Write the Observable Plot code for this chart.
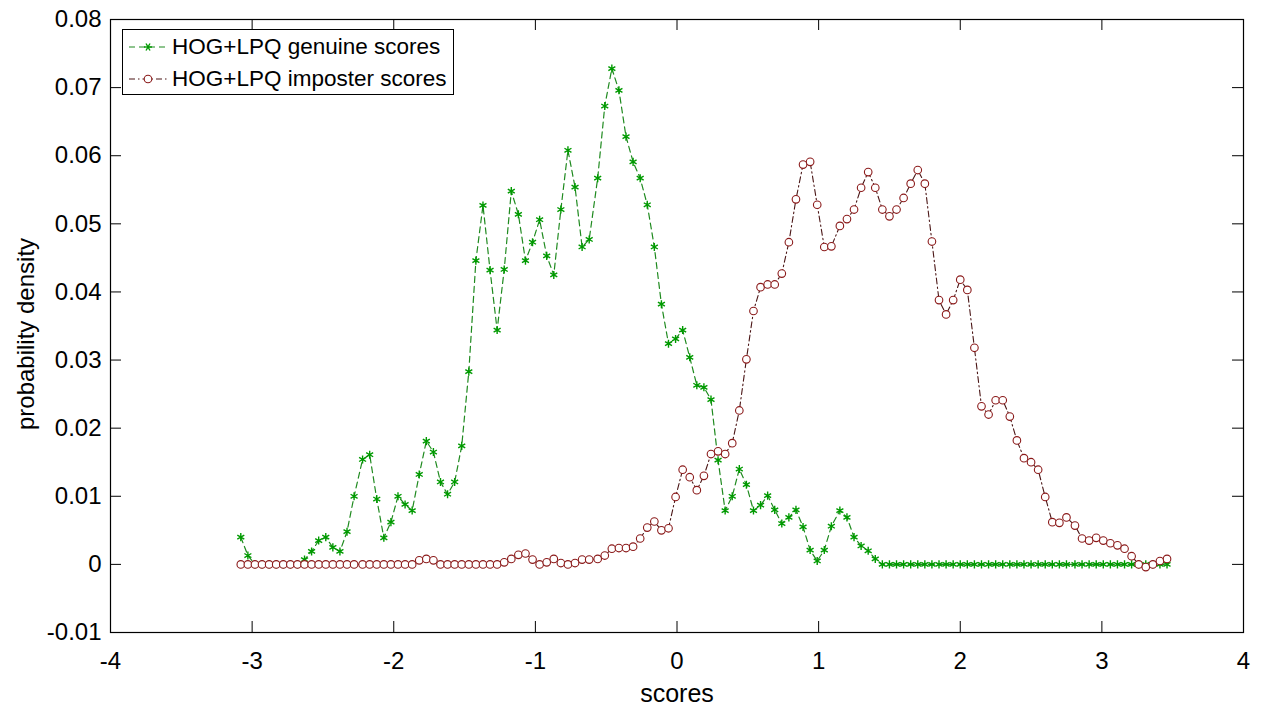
<!DOCTYPE html>
<html>
<head>
<meta charset="utf-8">
<script src="https://cdn.jsdelivr.net/npm/d3@7"></script>
<script src="https://cdn.jsdelivr.net/npm/@observablehq/plot@0.6"></script>
<style>
  html, body { margin: 0; padding: 0; background: #fff; }
  #wrap { position: relative; width: 1262px; height: 711px; font-family: "Liberation Sans", Arial, sans-serif; }
  #legend { position: absolute; left: 122px; top: 29px; width: 332px; height: 66px; box-sizing: border-box;
            border: 1px solid #000; background: #fff; }
  .row { position: absolute; left: 0; height: 30px; width: 100%; }
  .row svg { position: absolute; left: 4px; top: 0; }
  .row span { position: absolute; left: 49px; top: 0; line-height: 30px; font-size: 22.5px; color: #000; white-space: nowrap; }
</style>
</head>
<body>
<div id="wrap"><div id="legend">
  <div class="row" style="top:2px">
    <svg width="42" height="30"><line x1="2" y1="15" x2="40" y2="15" stroke="#1f8a1f" stroke-width="1.2" stroke-dasharray="6,4"/>
      <g transform="translate(21,15)" stroke="#009a00" stroke-width="1.4"><line x1="-4" y1="0" x2="4" y2="0"/><line x1="-2" y1="-3.5" x2="2" y2="3.5"/><line x1="-2" y1="3.5" x2="2" y2="-3.5"/></g></svg>
    <span>HOG+LPQ genuine scores</span>
  </div>
  <div class="row" style="top:34px">
    <svg width="42" height="30"><line x1="2" y1="15" x2="40" y2="15" stroke="#4a1515" stroke-width="1.1" stroke-dasharray="6,3,1.5,3"/>
      <circle cx="21" cy="15" r="3.8" fill="#fff" stroke="#8b1a1a" stroke-width="1.1"/></svg>
    <span>HOG+LPQ imposter scores</span>
  </div>
</div></div>
<script>
// bin centres (scores)
const scores = [-3.08,-3.03,-2.98,-2.93,-2.88,-2.83,-2.78,-2.73,-2.68,-2.63,
-2.58,-2.53,-2.48,-2.43,-2.38,-2.33,-2.28,-2.22,-2.17,-2.12,
-2.07,-2.02,-1.97,-1.92,-1.87,-1.82,-1.77,-1.72,-1.67,-1.62,
-1.57,-1.52,-1.47,-1.42,-1.37,-1.32,-1.27,-1.22,-1.17,-1.12,
-1.07,-1.02,-0.97,-0.92,-0.87,-0.82,-0.77,-0.72,-0.67,-0.62,
-0.56,-0.51,-0.46,-0.41,-0.36,-0.31,-0.26,-0.21,-0.16,-0.11,
-0.06,-0.01,0.04,0.09,0.14,0.19,0.24,0.29,0.34,0.39,
0.44,0.49,0.54,0.59,0.64,0.69,0.74,0.79,0.84,0.89,
0.94,0.99,1.04,1.09,1.15,1.20,1.25,1.30,1.35,1.40,
1.45,1.50,1.55,1.60,1.65,1.70,1.75,1.80,1.85,1.90,
1.95,2.00,2.05,2.10,2.15,2.20,2.25,2.30,2.35,2.40,
2.45,2.50,2.55,2.60,2.65,2.70,2.75,2.81,2.86,2.91,
2.96,3.01,3.06,3.11,3.16,3.21,3.26,3.31,3.36,3.41,
3.46];

const genuine = [0.0040,0.0013,0,0,0,0,0,0,0,0.0007,
0.0019,0.0035,0.0040,0.0025,0.0019,0.0048,0.0100,0.0154,0.0161,0.0096,
0.0039,0.0062,0.0100,0.0088,0.0079,0.0132,0.0181,0.0165,0.0121,0.0103,
0.0121,0.0174,0.0283,0.0446,0.0527,0.0432,0.0344,0.0433,0.0548,0.0514,
0.0446,0.0473,0.0506,0.0453,0.0425,0.0521,0.0608,0.0554,0.0466,0.0477,
0.0567,0.0673,0.0728,0.0696,0.0628,0.0591,0.0567,0.0528,0.0466,0.0382,
0.0324,0.0331,0.0344,0.0304,0.0263,0.0260,0.0242,0.0153,0.0079,0.0100,
0.0140,0.0117,0.0079,0.0087,0.0101,0.0080,0.0060,0.0069,0.0080,0.0055,
0.0021,0.0005,0.0021,0.0056,0.0079,0.0069,0.0040,0.0027,0.0020,0.0008,
0,0,0,0,0,0,0,0,0,0,
0,0,0,0,0,0,0,0,0,0,
0,0,0,0,0,0,0,0,0,0,
0,0,0,0,0,0,0,0,0,0,
0];

const imposter = [0,0,0,0,0,0,0,0,0,0,
0,0,0,0,0,0,0,0,0,0,
0,0,0,0,0,0.0006,0.0008,0.0006,0,0,
0,0,0,0,0,0,0,0.0003,0.0008,0.0014,
0.0016,0.0007,0,0.0003,0.0008,0.0002,0,0.0002,0.0007,0.0007,
0.0008,0.0013,0.0023,0.0024,0.0024,0.0026,0.0038,0.0054,0.0063,0.0050,
0.0053,0.0099,0.0139,0.0128,0.0109,0.0130,0.0162,0.0166,0.0162,0.0178,
0.0226,0.0301,0.0372,0.0407,0.0411,0.0411,0.0427,0.0473,0.0536,0.0587,
0.0591,0.0528,0.0466,0.0467,0.0497,0.0507,0.0521,0.0553,0.0576,0.0553,
0.0521,0.0511,0.0521,0.0538,0.0559,0.0579,0.0559,0.0474,0.0388,0.0367,
0.0388,0.0418,0.0403,0.0318,0.0232,0.0220,0.0241,0.0241,0.0217,0.0182,
0.0156,0.0150,0.0139,0.0099,0.0062,0.0061,0.0069,0.0057,0.0038,0.0035,
0.0039,0.0035,0.0031,0.0028,0.0023,0.0012,0,-0.0004,0,0.0005,
0.0008];

const xTicks = [-4,-3,-2,-1,0,1,2,3,4];
const yTicks = [-0.01,0,0.01,0.02,0.03,0.04,0.05,0.06,0.07,0.08];

const genData = scores.map((s, i) => ({score: s, density: genuine[i]}));
const impData = scores.map((s, i) => ({score: s, density: imposter[i]}));

const W = 1262, H = 711, mL = 110, mR = 19, mT = 19, mB = 79;
const innerW = W - mL - mR, innerH = H - mT - mB, tk = 11;
const FONT = "'Liberation Sans', Arial, sans-serif";

const chart = Plot.plot({
  width: W, height: H,
  marginLeft: mL, marginRight: mR, marginTop: mT, marginBottom: mB,
  style: {fontFamily: FONT, fontSize: "24px", background: "#fff", color: "#000"},
  x: {domain: [-4, 4]},
  y: {domain: [-0.01, 0.08]},
  marks: [
    Plot.axisX(xTicks, {tickSize: 0, tickPadding: 19, tickFormat: d => String(d), fontSize: 24, label: null}),
    Plot.axisY(yTicks, {tickSize: 0, tickPadding: 9, tickFormat: d => String(d), fontSize: 24, label: null}),
    Plot.tickY(yTicks, {y: d => d, stroke: "#000", insetRight: innerW - tk}),
    Plot.tickY(yTicks, {y: d => d, stroke: "#000", insetLeft: innerW - tk}),
    Plot.tickX(xTicks, {x: d => d, stroke: "#000", insetTop: innerH - tk}),
    Plot.tickX(xTicks, {x: d => d, stroke: "#000", insetBottom: innerH - tk}),
    Plot.line(genData, {x: "score", y: "density", stroke: "#1f8a1f", strokeWidth: 1.2, strokeDasharray: "6,4"}),
    Plot.dot(genData, {x: "score", y: "density", symbol: "asterisk", r: 3.8, stroke: "#009a00", strokeWidth: 1.4}),
    Plot.line(impData, {x: "score", y: "density", stroke: "#4a1515", strokeWidth: 1.1, strokeDasharray: "6,3,1.5,3"}),
    Plot.dot(impData, {x: "score", y: "density", symbol: "circle", r: 3.8, fill: "#fff", stroke: "#8b1a1a", strokeWidth: 1.1}),
    Plot.frame({stroke: "#000", strokeWidth: 1.2}),
    Plot.text(["probability density"], {text: d => d, frameAnchor: "left", dx: -84, dy: 8, rotate: -90, fontSize: 24, lineAnchor: "middle", textAnchor: "middle", fill: "#000"}),
    Plot.text(["scores"], {text: d => d, frameAnchor: "bottom", dy: 61, fontSize: 25, lineAnchor: "middle", textAnchor: "middle", fill: "#000"})
  ]
});
const wrap = document.getElementById("wrap");
wrap.insertBefore(chart, wrap.firstChild);
chart.style.position = "absolute";
chart.style.left = "0";
chart.style.top = "0";
</script>
</body>
</html>
